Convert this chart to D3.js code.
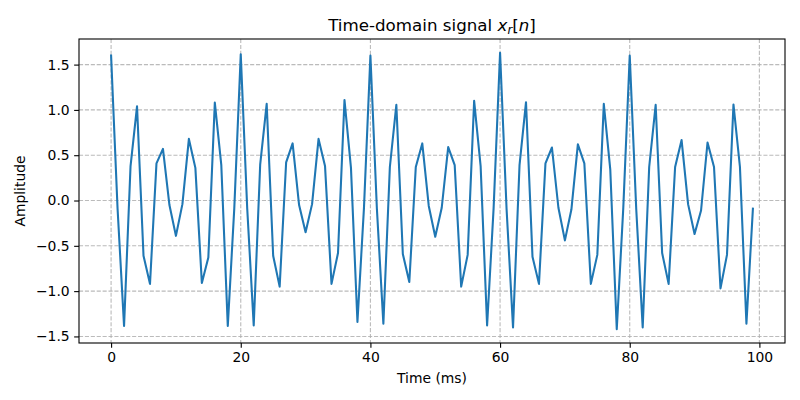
<!DOCTYPE html>
<html>
<head>
<meta charset="utf-8">
<script src="https://cdn.jsdelivr.net/npm/d3@7"></script>
<style>
  body { margin: 0; background: #fff; }
  svg { display: block; }
  text { font-family: "DejaVu Sans", sans-serif; }
</style>
</head>
<body>
<svg id="chart" width="800" height="400"></svg>
<script>
// Sample values x_r[n], n = 0..99
const amplitude = [
  1.60, -0.09, -1.385, 0.38, 1.04, -0.61, -0.92, 0.41, 0.57, -0.05,
  -0.39, -0.04, 0.68, 0.36, -0.91, -0.63, 1.08, 0.39, -1.385, -0.09,
  1.615, -0.09, -1.378, 0.40, 1.067, -0.61, -0.95, 0.42, 0.63, -0.05,
  -0.35, -0.04, 0.68, 0.38, -0.92, -0.58, 1.11, 0.36, -1.34, -0.09,
  1.60, -0.09, -1.36, 0.37, 1.056, -0.59, -0.90, 0.37, 0.63, -0.06,
  -0.40, -0.08, 0.59, 0.39, -0.95, -0.60, 1.10, 0.38, -1.38, -0.09,
  1.63, -0.09, -1.40, 0.39, 1.085, -0.62, -0.92, 0.41, 0.585, -0.08,
  -0.44, -0.10, 0.62, 0.41, -0.92, -0.60, 1.067, 0.34, -1.42, -0.09,
  1.60, -0.09, -1.40, 0.37, 1.056, -0.58, -0.92, 0.37, 0.667, -0.04,
  -0.37, -0.11, 0.64, 0.37, -0.97, -0.60, 1.06, 0.37, -1.36, -0.09
];
const timeMs = amplitude.map((_, i) => i);
const xTicks = [0, 20, 40, 60, 80, 100];
const yTicks = [-1.5, -1.0, -0.5, 0.0, 0.5, 1.0, 1.5];

const svg = d3.select("#chart");
const L = 79, R = 785, T = 39, B = 343;

const xmin = d3.min(timeMs), xmax = d3.max(timeMs);
const xm = (xmax - xmin) * 0.05;
const ymin = d3.min(amplitude), ymax = d3.max(amplitude);
const ym = (ymax - ymin) * 0.05;

const x = d3.scaleLinear().domain([xmin - xm, xmax + xm]).range([L, R]);
const y = d3.scaleLinear().domain([ymin - ym, ymax + ym]).range([B, T]);

const fmtY = v => (v < 0 ? "\u2212" : "") + Math.abs(v).toFixed(1);

// grid
const grid = svg.append("g");
grid.selectAll(".gx").data(xTicks).enter().append("line")
  .attr("x1", d => x(d)).attr("x2", d => x(d))
  .attr("y1", T).attr("y2", B)
  .attr("stroke", "#b0b0b0").attr("stroke-width", 1.1)
  .attr("stroke-dasharray", "4.1,1.8").attr("opacity", 0.85);
grid.selectAll(".gy").data(yTicks).enter().append("line")
  .attr("x1", L).attr("x2", R)
  .attr("y1", d => y(d)).attr("y2", d => y(d))
  .attr("stroke", "#b0b0b0").attr("stroke-width", 1.1)
  .attr("stroke-dasharray", "4.1,1.8").attr("opacity", 0.85);

// line
const line = d3.line().x((d, i) => x(timeMs[i])).y(d => y(d));
svg.append("path").datum(amplitude)
  .attr("d", line)
  .attr("fill", "none")
  .attr("stroke", "#1f77b4")
  .attr("stroke-width", 2.08)
  .attr("stroke-linejoin", "round")
  .attr("stroke-linecap", "square");

// axes
const xAxis = d3.axisBottom(x).tickValues(xTicks).tickSize(4.86).tickPadding(4.5).tickFormat(d3.format("d"));
const yAxis = d3.axisLeft(y).tickValues(yTicks).tickSize(4.86).tickPadding(4.5).tickFormat(fmtY);

const gx = svg.append("g").attr("transform", `translate(0,${B})`).call(xAxis);
const gy = svg.append("g").attr("transform", `translate(${L},0)`).call(yAxis);
[gx, gy].forEach(g => {
  g.select(".domain").remove();
  g.selectAll(".tick line").attr("stroke", "#000").attr("stroke-width", 1.1);
  g.selectAll(".tick text").attr("fill", "#000").style("font-size", "13.9px")
    .style("font-family", "'DejaVu Sans', sans-serif");
});

// frame
svg.append("rect").attr("x", L).attr("y", T).attr("width", R - L).attr("height", B - T)
  .attr("fill", "none").attr("stroke", "#000").attr("stroke-width", 1.1);

// labels
svg.append("text").attr("x", (L + R) / 2).attr("y", 383)
  .attr("text-anchor", "middle").style("font-size", "13.9px").text("Time (ms)");
svg.append("text")
  .attr("transform", `translate(25,${(T + B) / 2}) rotate(-90)`)
  .attr("text-anchor", "middle").style("font-size", "13.9px").text("Amplitude");

// title
const title = svg.append("text").attr("x", (L + R) / 2).attr("y", 31)
  .attr("text-anchor", "middle").style("font-size", "16.7px");
title.append("tspan").text("Time-domain signal ");
title.append("tspan").style("font-style", "italic").text("x");
title.append("tspan").style("font-style", "italic").style("font-size", "11.7px").attr("dy", 3).text("r");
title.append("tspan").attr("dy", -3).text("[");
title.append("tspan").style("font-style", "italic").text("n");
title.append("tspan").text("]");
</script>
</body>
</html>
